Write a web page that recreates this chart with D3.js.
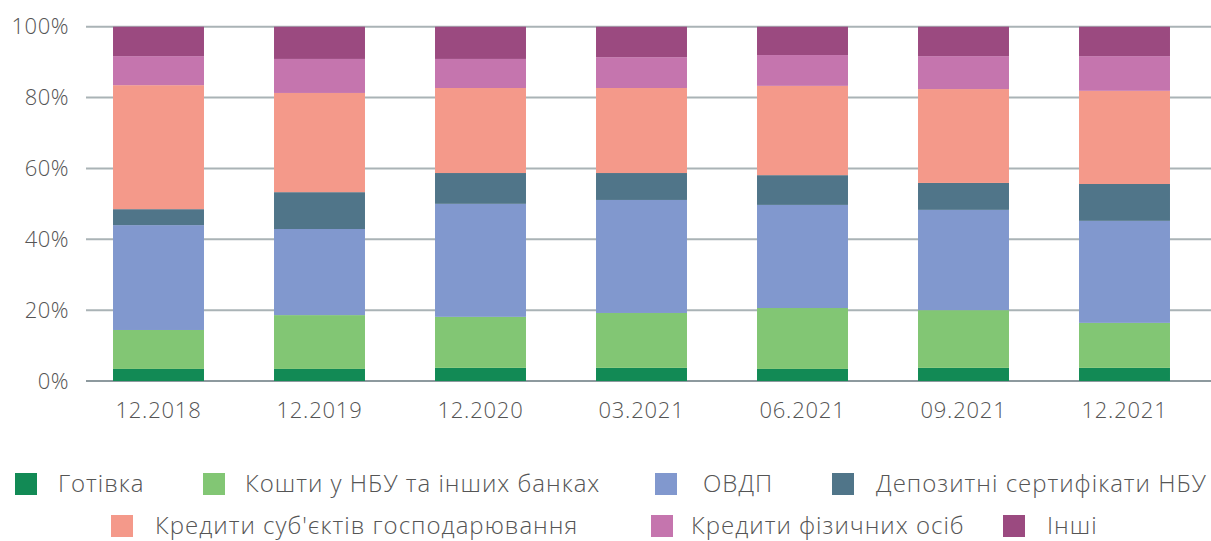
<!DOCTYPE html>
<html>
<head>
<meta charset="utf-8">
<style>
  body { margin: 0; background: #fff; }
  svg text { font-family: "Open Sans", "DejaVu Sans", sans-serif; fill: #555; font-weight: 300; }
</style>
<script src="https://cdn.jsdelivr.net/npm/d3@7/dist/d3.min.js"></script>
</head>
<body>
<svg id="chart" width="1211" height="541"></svg>
<script>
// periods
const periods = ["12.2018", "12.2019", "12.2020", "03.2021", "06.2021", "09.2021", "12.2021"];

// series names (bottom to top)
const series = ["Готівка", "Кошти у НБУ та інших банках", "ОВДП", "Депозитні сертифікати НБУ",
  "Кредити суб'єктів господарювання", "Кредити фізичних осіб", "Інші"];

// shares, % of total
const cash      = [3.4, 3.4, 3.7, 3.7, 3.4, 3.7, 3.7];
const banks     = [11.0, 15.2, 14.4, 15.5, 17.2, 16.3, 12.7];
const ovdp      = [29.6, 24.3, 31.9, 31.9, 29.1, 28.3, 28.8];
const certs     = [4.5, 10.4, 8.7, 7.6, 8.4, 7.6, 10.4];
const corpLoans = [35.0, 28.0, 24.0, 24.0, 25.2, 26.5, 26.3];
const retail    = [8.2, 9.6, 8.2, 8.7, 8.7, 9.3, 9.8];
const other     = [8.3, 9.1, 9.1, 8.6, 8.0, 8.3, 8.3];

const yTicks = [0, 20, 40, 60, 80, 100];

const colors = ["#128a55", "#82c674", "#8198ce", "#507589", "#f4998a", "#c575ae", "#9b4a80"];

const rows = periods.map((p, i) => {
  const r = { period: p };
  [cash, banks, ovdp, certs, corpLoans, retail, other].forEach((arr, k) => r[series[k]] = arr[i]);
  return r;
});

const svg = d3.select("#chart");

const x = d3.scaleBand().domain(periods).range([78, 1205]).paddingInner(0.435).paddingOuter(0.2175);
const y = d3.scaleLinear().domain([0, 100]).range([381, 26.7]);

// grid
svg.append("g").selectAll("line").data(yTicks).join("line")
  .attr("x1", 86).attr("x2", 1211)
  .attr("y1", d => y(d)).attr("y2", d => y(d))
  .attr("stroke", d => d === 0 ? "#8d999e" : "#aab3b6")
  .attr("stroke-width", 2);

svg.append("g").selectAll("text").data(yTicks).join("text")
  .attr("x", 69).attr("y", d => y(d)).attr("dy", "0.35em")
  .attr("text-anchor", "end").attr("font-size", 22).attr("letter-spacing", 0.5)
  .text(d => d + "%");

// bars
const stack = d3.stack().keys(series)(rows);
svg.append("g").selectAll("g").data(stack).join("g")
  .attr("fill", (d, i) => colors[i])
  .selectAll("rect").data(d => d).join("rect")
  .attr("x", d => x(d.data.period))
  .attr("width", x.bandwidth())
  .attr("y", d => y(d[1]))
  .attr("height", d => y(d[0]) - y(d[1]));

// x labels
svg.append("g").selectAll("text").data(periods).join("text")
  .attr("x", d => x(d) + x.bandwidth() / 2).attr("y", 410).attr("dy", "0.35em")
  .attr("text-anchor", "middle").attr("font-size", 22).attr("letter-spacing", 0.8)
  .text(d => d);

// legend
const legendPos = [
  { sx: 15, tx: 58, y: 484 }, { sx: 203, tx: 245, y: 484 }, { sx: 655, tx: 703, y: 484 }, { sx: 832, tx: 876, y: 484 },
  { sx: 111, tx: 155, y: 526 }, { sx: 651, tx: 691, y: 526 }, { sx: 1003, tx: 1047, y: 526 }
];
const lg = svg.append("g").selectAll("g").data(series).join("g");
lg.append("rect")
  .attr("x", (d, i) => legendPos[i].sx).attr("y", (d, i) => legendPos[i].y - 11)
  .attr("width", 22).attr("height", 22)
  .attr("fill", (d, i) => colors[i]);
lg.append("text")
  .attr("x", (d, i) => legendPos[i].tx).attr("y", (d, i) => legendPos[i].y).attr("dy", "0.35em")
  .attr("font-size", 24).attr("letter-spacing", 1.0)
  .text(d => d);
</script>
</body>
</html>
